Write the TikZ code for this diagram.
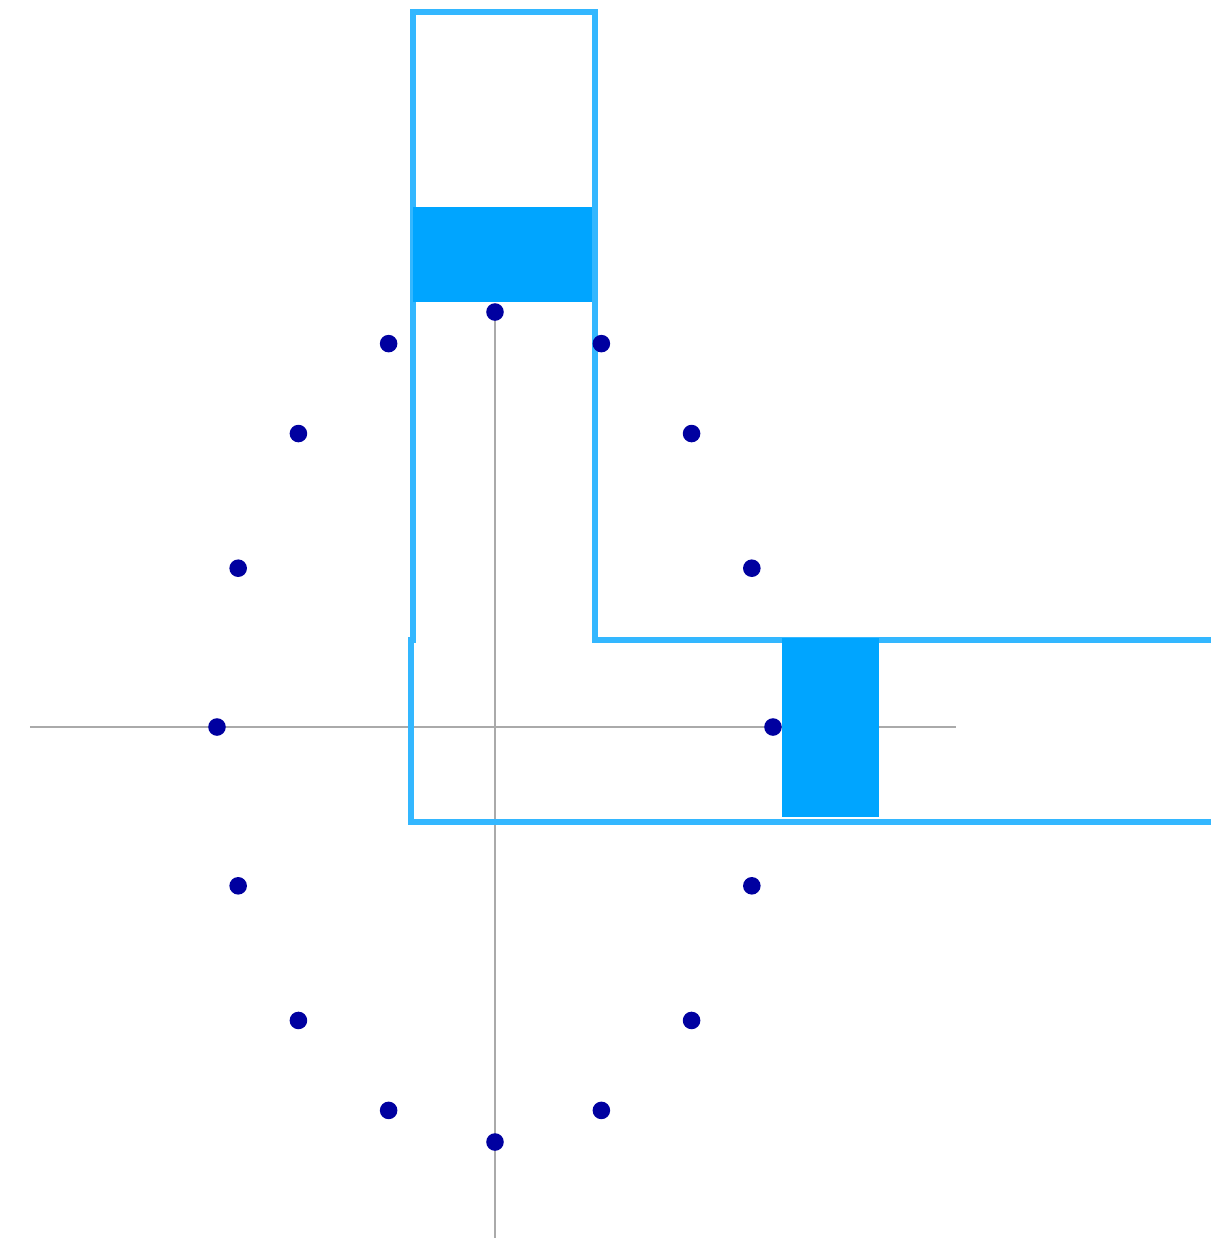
\documentclass[tikz,border=0pt]{standalone}
\definecolor{axisgray}{HTML}{AAAAAA}
\definecolor{frameblue}{HTML}{33B7FF}
\definecolor{blockblue}{HTML}{00A5FF}
\definecolor{dotblue}{HTML}{0000A0}
\tikzset{
  axisline/.style={draw=axisgray, line width=0.75pt},
  frameline/.style={draw=frameblue, line width=1.45pt},
  block/.style={fill=blockblue},
  ptdot/.style={circle, fill=dotblue, inner sep=0pt, minimum size=5pt}
}
\begin{document}
\begin{tikzpicture}[x=0.01cm, y=-0.01cm]
  \useasboundingbox (0,0) rectangle (1211,1241);
  % axes through the centre of the ellipse
  \coordinate (ctr) at (495,727);
  \coordinate (xl) at (30,727);
  \coordinate (xr) at (956,727);
  \coordinate (yt) at (495,312);
  \coordinate (yb) at (495,1238);
  \draw[axisline] (xl) -- (xr);
  \draw[axisline] (yt) -- (yb);
  % L-shaped frame
  \draw[frameline, line join=miter]
    (1215,640) -- (595,640) -- (595,12) -- (413,12) -- (413,640)
    -- (411,640) -- (411,822) -- (1215,822);
  % sixteen points on the ellipse
  \foreach \k in {0,...,15} {
    \node[ptdot] (p\k) at ({495+278*sin(22.5*\k)}, {727-415*cos(22.5*\k)}) {};
  }
  % filled blocks
  \fill[block] (413,207) rectangle (592,302);
  \fill[block] (782,638) rectangle (879,817);
\end{tikzpicture}
\end{document}
